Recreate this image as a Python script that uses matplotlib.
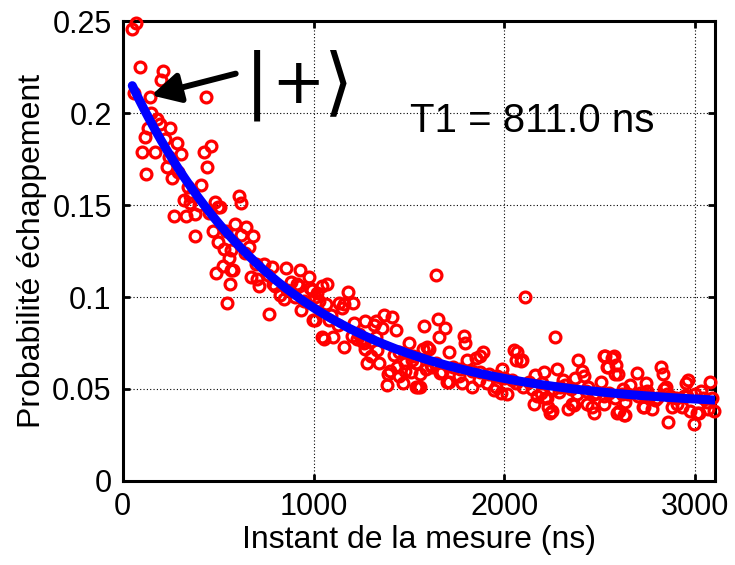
import numpy as np
import matplotlib
matplotlib.use("Agg")
import matplotlib.pyplot as plt

plt.rcParams['font.family'] = ['Liberation Sans', 'DejaVu Sans']

# measured escape probability (time in ns, probability)
t_ns = [50, 70, 90, 60, 100, 115, 120, 130, 145, 170, 180, 195, 200, 210, 220,
        230, 250, 260, 270, 285, 305, 320, 330, 350, 355, 380, 380, 410, 425,
        435, 440, 460, 475, 485, 490, 500, 500, 510, 525, 530, 545, 555, 560,
        565, 570, 580, 590, 610, 620, 620, 645, 660, 670, 685, 705, 715, 740,
        765, 780, 790, 800, 825, 845, 855, 880, 905, 915, 925, 930, 935, 975,
        980, 990, 995, 1010, 1010, 1020, 1030, 1045, 1045, 1055, 1065, 1070,
        1080, 1100, 1135, 1150, 1160, 1160, 1180, 1205, 1210, 1230, 1255, 1265,
        1270, 1270, 1300, 1315, 1325, 1335, 1345, 1360, 1370, 1390, 1385, 1410,
        1420, 1430, 1440, 1470, 1480, 1500, 1510, 1515, 1535, 1535, 1550, 1560,
        1575, 1580, 1595, 1605, 1615, 1620, 1640, 1650, 1660, 1665, 1675, 1690,
        1700, 1710, 1710, 1760, 1780, 1790, 1795, 1805, 1830, 1850, 1865, 1875,
        1890, 1910, 1945, 1955, 1980, 1990, 2015, 2050, 2060, 2065, 2085, 2095,
        2110, 2145, 2155, 2160, 2170, 2190, 2210, 2215, 2225, 2230, 2240, 2250,
        2265, 2275, 2285, 2310, 2335, 2355, 2365, 2370, 2385, 2405, 2415, 2435,
        2460, 2470, 2470, 2505, 2520, 2520, 2520, 2530, 2540, 2545, 2565, 2575,
        2580, 2585, 2590, 2595, 2600, 2615, 2625, 2635, 2635, 2660, 2695, 2725,
        2730, 2740, 2775, 2820, 2830, 2835, 2845, 2860, 2880, 2905, 2930, 2950,
        2965, 2975, 2995, 3010, 3020, 3070, 3080, 3100,
        150, 240, 290, 340, 400, 450, 540, 640, 700, 760, 860, 950, 1090, 1130,
        1240, 1330, 1450, 1520, 1640, 1730, 1830, 1920, 2000, 2040, 2130, 2200,
        2290, 2350, 2430, 2480, 2550, 2650, 2700, 2760, 2790, 2870, 2900, 2940,
        3040, 3060, 3090,
        1400, 1450, 1480, 1560, 1590, 1300, 1280, 1200, 2710, 2750, 2800, 2850,
        2955, 3000, 3030, 2580, 2620, 2440, 2380, 2320, 2255, 2100, 2060, 1960,
        1870, 1770]
p_esc = [0.246, 0.249, 0.225, 0.211, 0.179, 0.187, 0.167, 0.192, 0.209, 0.179,
         0.197, 0.194, 0.218, 0.223, 0.186, 0.171, 0.192, 0.165, 0.144, 0.184,
         0.178, 0.153, 0.144, 0.151, 0.155, 0.145, 0.133, 0.161, 0.179, 0.209,
         0.171, 0.182, 0.136, 0.152, 0.113, 0.149, 0.130, 0.149, 0.117, 0.126,
         0.097, 0.121, 0.107, 0.1255, 0.115, 0.115, 0.140, 0.155, 0.151, 0.134,
         0.138, 0.127, 0.111, 0.133, 0.110, 0.106, 0.118, 0.091, 0.1165, 0.107,
         0.106, 0.101, 0.099, 0.116, 0.108, 0.100, 0.107, 0.106, 0.115, 0.093,
         0.111, 0.105, 0.104, 0.0875, 0.100, 0.0875, 0.102, 0.098, 0.106, 0.078,
         0.077, 0.096, 0.107, 0.0875, 0.078, 0.097, 0.094, 0.073, 0.096, 0.103,
         0.097, 0.086, 0.077, 0.076, 0.075, 0.087, 0.072, 0.076, 0.085, 0.087,
         0.071, 0.064, 0.083, 0.090, 0.058, 0.052, 0.089, 0.0685, 0.082, 0.062,
         0.053, 0.064, 0.075, 0.059, 0.066, 0.051, 0.064, 0.051, 0.051, 0.072,
         0.084, 0.073, 0.072, 0.063, 0.062, 0.112, 0.088, 0.078, 0.0585, 0.059,
         0.083, 0.054, 0.070, 0.054, 0.057, 0.053, 0.079, 0.075, 0.066, 0.051,
         0.067, 0.055, 0.068, 0.070, 0.053, 0.0495, 0.051, 0.048, 0.061, 0.047,
         0.071, 0.066, 0.070, 0.065, 0.066, 0.100, 0.050, 0.042, 0.0576, 0.046,
         0.048, 0.059, 0.045, 0.045, 0.040, 0.037, 0.038, 0.078, 0.061, 0.0485,
         0.055, 0.039, 0.042, 0.041, 0.056, 0.066, 0.060, 0.057, 0.042, 0.040,
         0.047, 0.037, 0.054, 0.046, 0.068, 0.042, 0.068, 0.062, 0.062, 0.067,
         0.068, 0.058, 0.063, 0.037, 0.058, 0.038, 0.047, 0.036, 0.043, 0.036,
         0.052, 0.0585, 0.040, 0.040, 0.053, 0.039, 0.062, 0.058, 0.050, 0.051,
         0.032, 0.040, 0.042, 0.040, 0.053, 0.055, 0.038, 0.031, 0.037, 0.037,
         0.039, 0.054, 0.038,
         0.200, 0.176, 0.168, 0.160, 0.150, 0.146, 0.136, 0.124, 0.118, 0.112,
         0.104, 0.098, 0.090, 0.085, 0.080, 0.078, 0.070, 0.068, 0.064, 0.062,
         0.060, 0.058, 0.056, 0.055, 0.054, 0.053, 0.051, 0.050, 0.049, 0.048,
         0.048, 0.047, 0.046, 0.046, 0.044, 0.046, 0.045, 0.046, 0.045, 0.043,
         0.045,
         0.060, 0.057, 0.060, 0.058, 0.061, 0.068, 0.064, 0.079, 0.048, 0.049,
         0.045, 0.047, 0.046, 0.047, 0.049, 0.045, 0.050, 0.051, 0.047, 0.052,
         0.050, 0.051, 0.053, 0.057, 0.059, 0.061]

# exponential fit parameters
T1 = 811.0
fit_amp = 0.1863
fit_offset = 0.0399
fit_start, fit_stop = 50, 3100

x_ticks = [0, 1000, 2000, 3000]
y_ticks = [0, 0.05, 0.1, 0.15, 0.2, 0.25]
y_ticklabels = ['0', '0.05', '0.1', '0.15', '0.2', '0.25']

fig = plt.figure(figsize=(7.35, 5.65), dpi=100)
ax = fig.add_axes([0.167, 0.149, 0.806, 0.813])

ax.plot(t_ns, p_esc, 'o', mfc='none', mec=(1, 0, 0), ms=7.8, mew=2.3,
        clip_on=False, zorder=3)

tt = np.linspace(fit_start, fit_stop, 400)
ax.plot(tt, fit_offset + fit_amp * np.exp(-tt / T1), color=(0, 0, 1),
        lw=6.5, solid_capstyle='round', zorder=4)

ax.set_xlim(0, 3105)
ax.set_ylim(0, 0.25)
ax.set_xticks(x_ticks)
ax.set_yticks(y_ticks)
ax.set_yticklabels(y_ticklabels)
ax.tick_params(direction='in', length=5, width=2, labelsize=22,
               top=True, right=True, pad=8)
for s in ax.spines.values():
    s.set_linewidth(2.2)
ax.grid(True, linestyle=(0, (1, 2)), color='k', lw=0.8)
ax.set_axisbelow(True)

ax.set_xlabel('Instant de la mesure (ns)', fontsize=23, labelpad=2)
ax.set_ylabel('Probabilité échappement', fontsize=23, labelpad=4)

ax.annotate('', xy=(150, 0.2098), xytext=(592, 0.2216),
            arrowprops=dict(arrowstyle='-|>,head_length=0.85,head_width=0.45',
                            lw=4.3, color='k', mutation_scale=20,
                            shrinkA=0, shrinkB=0), zorder=5)
# ket |+> drawn in three parts so the bar and bracket can be taller
ket_font = ['DejaVu Sans']
ax.text(702, 0.2152, '|', fontsize=52, family=ket_font,
        ha='center', va='center', zorder=5)
ax.text(916, 0.2152, '+', fontsize=46, family=ket_font,
        ha='center', va='center', zorder=5)
ax.text(1134, 0.2152, '\u27e9', fontsize=54, family=ket_font,
        ha='center', va='center', zorder=5)
ax.text(1508, 0.1898, 'T1 = 811.0 ns', fontsize=29, ha='left',
        va='baseline', zorder=5)

fig.savefig('out.png', dpi=100)
